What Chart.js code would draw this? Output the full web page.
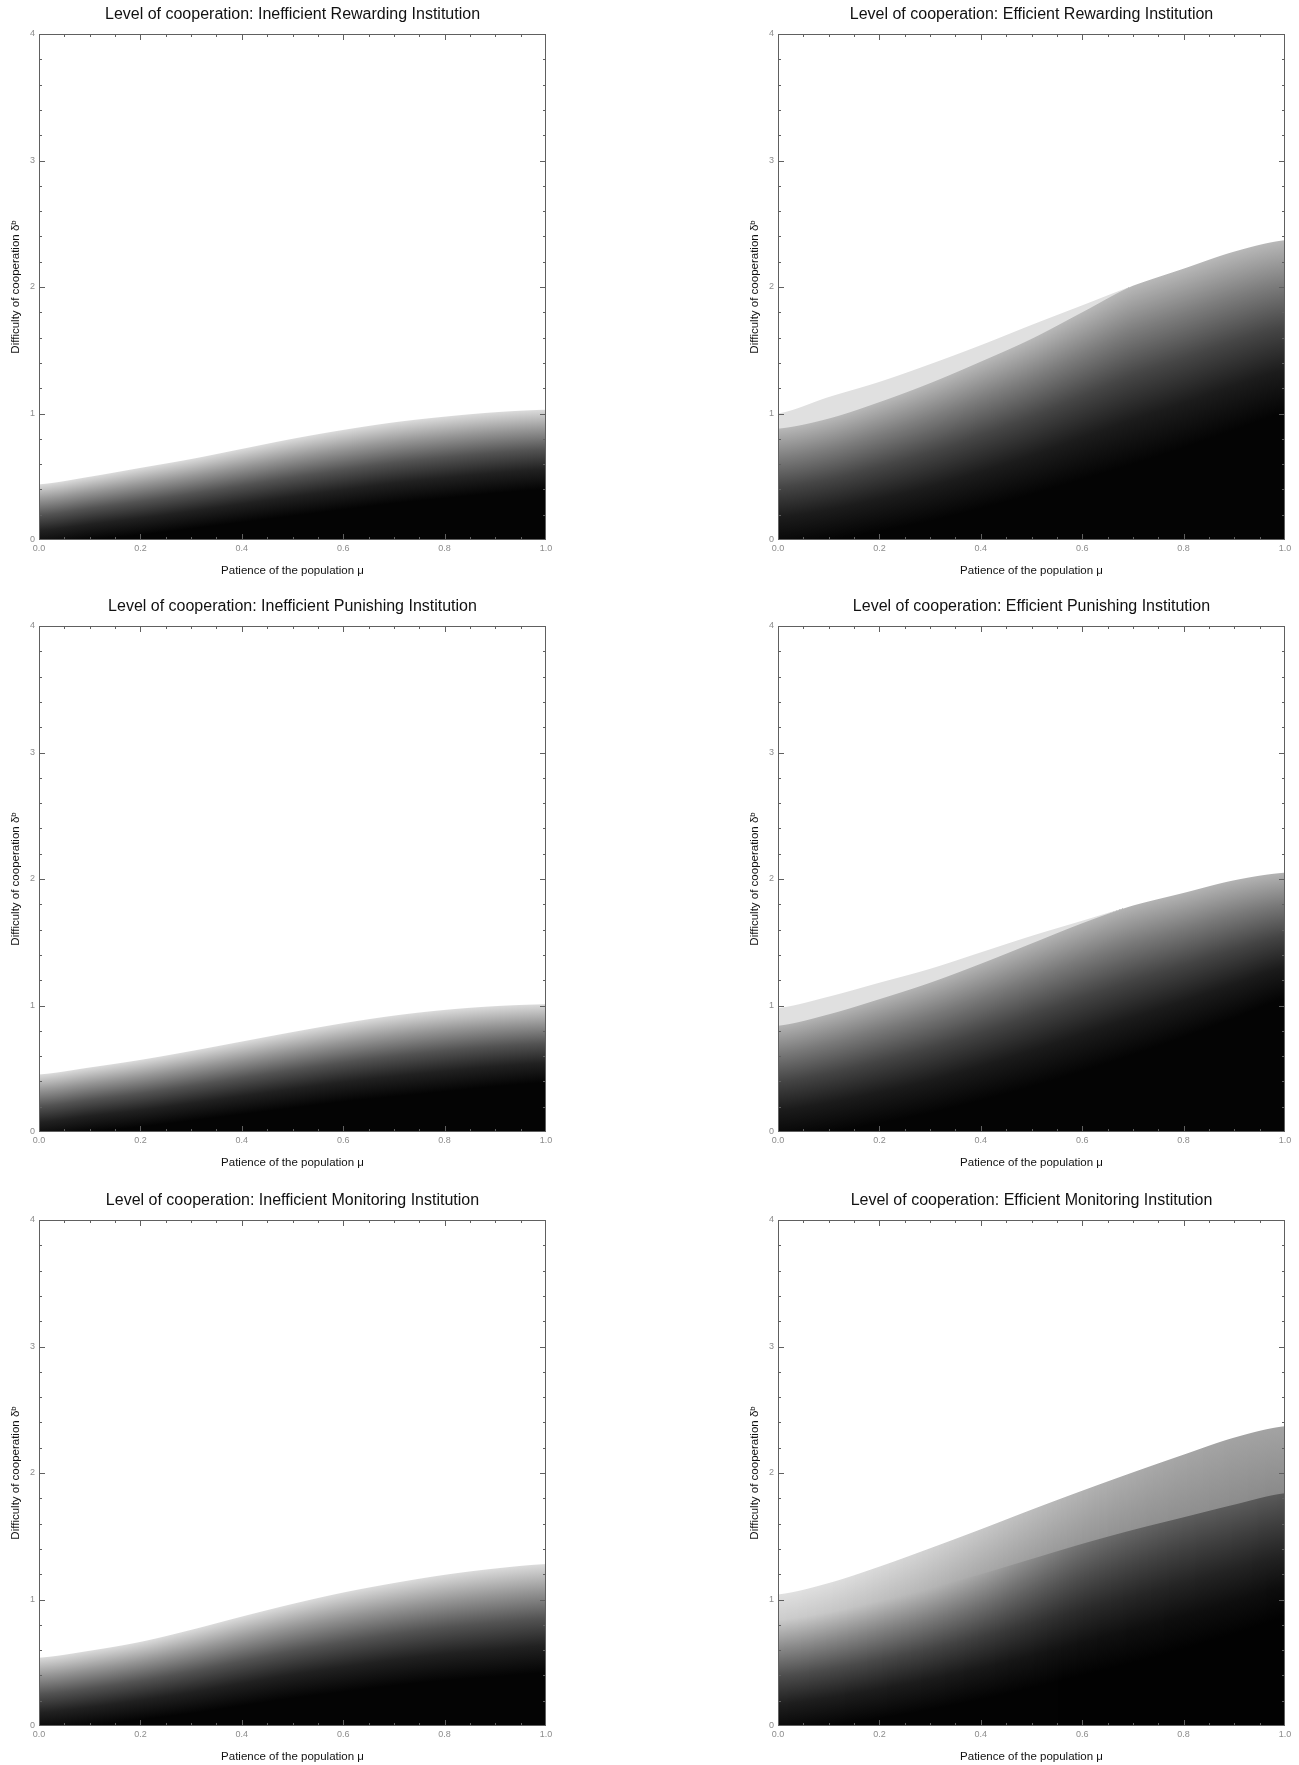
<!DOCTYPE html>
<html>
<head>
<meta charset="utf-8">
<script src="https://cdn.jsdelivr.net/npm/chart.js@4.4.0/dist/chart.umd.min.js"></script>
<style>
  html, body { margin: 0; padding: 0; background: #fff; overflow: hidden; }
  .panel { position: absolute; width: 585px; height: 585px; }
</style>
</head>
<body>
<div class="panel" style="left:0px;top:0px"><canvas id="chart0" width="585" height="585"></canvas></div>
<div class="panel" style="left:739px;top:0px"><canvas id="chart1" width="585" height="585"></canvas></div>
<div class="panel" style="left:0px;top:592px"><canvas id="chart2" width="585" height="585"></canvas></div>
<div class="panel" style="left:739px;top:592px"><canvas id="chart3" width="585" height="585"></canvas></div>
<div class="panel" style="left:0px;top:1186px"><canvas id="chart4" width="585" height="585"></canvas></div>
<div class="panel" style="left:739px;top:1186px"><canvas id="chart5" width="585" height="585"></canvas></div>
<script>
// patience of the population (x samples)
const mu = [0, 0.1, 0.2, 0.3, 0.4, 0.5, 0.6, 0.7, 0.8, 0.9, 1.0];

// difficulty where cooperation disappears (top edge of the grey area)
const rewardInefEdge  = [0.44, 0.50, 0.57, 0.64, 0.72, 0.80, 0.87, 0.93, 0.975, 1.01, 1.03];
const punishInefEdge  = [0.455, 0.51, 0.57, 0.64, 0.715, 0.79, 0.86, 0.92, 0.965, 0.995, 1.01];
const monitorInefEdge = [0.54, 0.595, 0.665, 0.76, 0.865, 0.965, 1.055, 1.13, 1.195, 1.245, 1.28];
const rewardEffEdge   = [1.0, 1.13, 1.25, 1.39, 1.54, 1.70, 1.855, 2.01, 2.145, 2.28, 2.37];
const punishEffEdge   = [0.98, 1.07, 1.18, 1.29, 1.42, 1.55, 1.67, 1.79, 1.89, 1.99, 2.05];
const monitorEffEdge  = [1.04, 1.13, 1.26, 1.405, 1.555, 1.71, 1.86, 2.005, 2.145, 2.28, 2.37];

// lower end of the light band in the efficient institutions
const rewardEffStep  = [0.88, 0.96, 1.09, 1.24, 1.41, 1.59, 1.80, 2.01, 2.145, 2.28, 2.37];
const punishEffStep  = [0.84, 0.93, 1.05, 1.18, 1.33, 1.49, 1.65, 1.79, 1.89, 1.99, 2.05];
const monitorEffStep = [0.84, 0.90, 0.99, 1.09, 1.20, 1.32, 1.44, 1.55, 1.65, 1.75, 1.84];

// difficulty below which cooperation is full (black)
const rewardInefFloor  = [-0.05, 0.0, 0.04, 0.09, 0.14, 0.19, 0.24, 0.29, 0.33, 0.37, 0.40];
const punishInefFloor  = [-0.05, 0.0, 0.04, 0.09, 0.14, 0.19, 0.24, 0.28, 0.32, 0.36, 0.39];
const monitorInefFloor = [-0.04, 0.0, 0.05, 0.10, 0.16, 0.22, 0.27, 0.32, 0.36, 0.39, 0.42];
const rewardEffFloor   = [-0.05, 0.0, 0.07, 0.15, 0.25, 0.36, 0.48, 0.60, 0.73, 0.87, 1.0];
const punishEffFloor   = [-0.05, 0.0, 0.07, 0.15, 0.25, 0.36, 0.48, 0.61, 0.75, 0.90, 1.05];
const monitorEffFloor  = [-0.05, 0.0, 0.06, 0.13, 0.21, 0.30, 0.40, 0.50, 0.61, 0.73, 0.85];

// grey levels (1 = white) read at the band edges for efficient monitoring
const monitorEffTop      = [0.88, 0.87, 0.85, 0.82, 0.78, 0.74, 0.70, 0.67, 0.65, 0.64, 0.64];
const monitorEffStepUp   = [0.80, 0.78, 0.75, 0.71, 0.66, 0.62, 0.59, 0.57, 0.56, 0.55, 0.54];
const monitorEffStepDown = [0.80, 0.78, 0.75, 0.71, 0.64, 0.54, 0.45, 0.40, 0.37, 0.36, 0.35];

// how the grey fades from the band edge (t=1) down to the floor (t=0)
const fadeProfile = [[0, 0.02], [0.25, 0.15], [0.5, 0.38], [0.75, 0.68], [1, 1]];

const xTicks = [0, 0.2, 0.4, 0.6, 0.8, 1.0];
const yTicks = [0, 1, 2, 3, 4];
const xMinorStep = 0.05;
const yMinorStep = 0.2;

const panels = [
  { title: 'Level of cooperation: Inefficient Rewarding Institution', edge: rewardInefEdge, step: rewardInefEdge, floor: rewardInefFloor, top: 0.86, stepUp: 0.86, stepDown: 0.86 },
  { title: 'Level of cooperation: Efficient Rewarding Institution', edge: rewardEffEdge, step: rewardEffStep, floor: rewardEffFloor, top: 0.88, stepUp: 0.88, stepDown: 0.72 },
  { title: 'Level of cooperation: Inefficient Punishing Institution', edge: punishInefEdge, step: punishInefEdge, floor: punishInefFloor, top: 0.86, stepUp: 0.86, stepDown: 0.86 },
  { title: 'Level of cooperation: Efficient Punishing Institution', edge: punishEffEdge, step: punishEffStep, floor: punishEffFloor, top: 0.88, stepUp: 0.88, stepDown: 0.70 },
  { title: 'Level of cooperation: Inefficient Monitoring Institution', edge: monitorInefEdge, step: monitorInefEdge, floor: monitorInefFloor, top: 0.86, stepUp: 0.86, stepDown: 0.86 },
  { title: 'Level of cooperation: Efficient Monitoring Institution', edge: monitorEffEdge, step: monitorEffStep, floor: monitorEffFloor, top: monitorEffTop, stepUp: monitorEffStepUp, stepDown: monitorEffStepDown },
];

const FONT = '"Liberation Sans", Arial, Helvetica, sans-serif';

// catmull-rom between the read samples
function sample(arr, m) {
  if (!Array.isArray(arr)) return arr;
  const n = arr.length - 1;
  let i = 0;
  while (i < n - 1 && m > mu[i + 1]) i++;
  const t = Math.min(Math.max((m - mu[i]) / (mu[i + 1] - mu[i]), 0), 1);
  const p0 = arr[Math.max(i - 1, 0)], p1 = arr[i], p2 = arr[i + 1], p3 = arr[Math.min(i + 2, n)];
  return p1 + 0.5 * t * (p2 - p0 + t * (2 * p0 - 5 * p1 + 4 * p2 - p3 + t * (3 * (p1 - p2) + p3 - p0)));
}

function grey(v) {
  const g = Math.round(255 * Math.min(Math.max(v, 0), 1));
  return `rgb(${g},${g},${g})`;
}

function makeFieldPlugin(panel) {
  return {
    id: 'coopField',
    beforeDatasetsDraw(chart) {
      const { ctx, chartArea: a, scales: { x, y } } = chart;
      ctx.save();
      ctx.beginPath();
      ctx.rect(a.left, a.top, a.right - a.left, a.bottom - a.top);
      ctx.clip();
      for (let px = Math.floor(a.left); px < a.right; px++) {
        const m = x.getValueForPixel(px + 0.5);
        const yEdge = y.getPixelForValue(sample(panel.edge, m));
        const yStep = Math.max(y.getPixelForValue(sample(panel.step, m)), yEdge);
        const yFloor = y.getPixelForValue(sample(panel.floor, m));
        const hasBand = yStep - yEdge > 0.3;

        // fade first, starting a pixel higher so the band covers the seam
        const down = sample(panel.stepDown, m);
        const fade = ctx.createLinearGradient(0, yStep, 0, Math.max(yFloor, yStep + 1));
        fadeProfile.forEach(([t, k]) => fade.addColorStop(1 - t, grey(down * k)));
        ctx.fillStyle = fade;
        const fadeTop = hasBand ? Math.floor(yStep) : yStep;
        ctx.fillRect(px, fadeTop, 1, a.bottom - fadeTop);

        if (hasBand) {
          const band = ctx.createLinearGradient(0, yEdge, 0, yStep);
          band.addColorStop(0, grey(sample(panel.top, m)));
          band.addColorStop(1, grey(sample(panel.stepUp, m)));
          ctx.fillStyle = band;
          ctx.fillRect(px, yEdge, 1, yStep - yEdge);
        }
      }
      ctx.restore();
    },
    afterDraw(chart) {
      const { ctx, chartArea: a, scales: { x, y } } = chart;
      ctx.save();
      ctx.strokeStyle = '#606060';
      ctx.lineWidth = 1;
      ctx.strokeRect(a.left + 0.5, a.top + 0.5, a.right - a.left - 1, a.bottom - a.top - 1);
      ctx.beginPath();
      const nx = Math.round((x.max - x.min) / xMinorStep);
      for (let i = 0; i <= nx; i++) {
        const v = x.min + i * xMinorStep;
        const len = i % 4 === 0 ? 6 : 3;
        const px = Math.min(Math.round(x.getPixelForValue(v)), a.right - 1) + 0.5;
        ctx.moveTo(px, a.bottom); ctx.lineTo(px, a.bottom - len);
        ctx.moveTo(px, a.top); ctx.lineTo(px, a.top + len);
      }
      const ny = Math.round((y.max - y.min) / yMinorStep);
      for (let i = 0; i <= ny; i++) {
        const v = y.min + i * yMinorStep;
        const len = i % 5 === 0 ? 6 : 3;
        const py = Math.min(Math.round(y.getPixelForValue(v)), a.bottom - 1) + 0.5;
        ctx.moveTo(a.left, py); ctx.lineTo(a.left + len, py);
        ctx.moveTo(a.right, py); ctx.lineTo(a.right - len, py);
      }
      ctx.stroke();
      ctx.restore();
    }
  };
}

panels.forEach((panel, idx) => {
  const ctx = document.getElementById('chart' + idx).getContext('2d');
  new Chart(ctx, {
    type: 'scatter',
    data: {
      datasets: [{
        label: 'edge',
        data: mu.map((m, i) => ({ x: m, y: panel.edge[i] })),
        showLine: false,
        pointRadius: 0,
        pointHoverRadius: 0,
        pointBorderWidth: 0,
      }],
    },
    options: {
      responsive: false,
      animation: false,
      events: [],
      layout: { padding: 0 },
      plugins: {
        legend: { display: false },
        tooltip: { enabled: false },
        title: {
          display: true,
          text: panel.title,
          color: '#111',
          font: { family: FONT, size: 16, weight: 'normal', lineHeight: 1.2 },
          padding: { top: 5, bottom: 9.8 },
        },
      },
      scales: {
        x: {
          type: 'linear',
          min: 0,
          max: 1,
          afterBuildTicks: (scale) => { scale.ticks = xTicks.map(v => ({ value: v })); },
          afterFit: (scale) => { scale.height = 45; },
          grid: { display: false, drawTicks: false },
          border: { display: false },
          ticks: {
            padding: 3,
            color: '#8c8c8c',
            font: { family: FONT, size: 9 },
            maxRotation: 0,
            callback: (v) => Number(v).toFixed(1),
          },
          title: {
            display: true,
            text: 'Patience of the population μ',
            color: '#111',
            font: { family: FONT, size: 11.5 },
            padding: { bottom: 7 },
          },
        },
        y: {
          type: 'linear',
          min: 0,
          max: 4,
          afterBuildTicks: (scale) => { scale.ticks = yTicks.map(v => ({ value: v })); },
          afterFit: (scale) => { scale.width = 39; },
          grid: { display: false, drawTicks: false },
          border: { display: false },
          ticks: {
            padding: 4,
            color: '#8c8c8c',
            font: { family: FONT, size: 9 },
          },
          title: {
            display: true,
            text: 'Difficulty of cooperation δᵇ',
            color: '#111',
            font: { family: FONT, size: 11.5 },
            padding: { top: 9 },
          },
        },
        yRight: {
          type: 'linear',
          position: 'right',
          min: 0,
          max: 4,
          afterFit: (scale) => { scale.width = 39; },
          grid: { display: false, drawTicks: false },
          border: { display: false },
          ticks: { display: false },
        },
      },
    },
    plugins: [makeFieldPlugin(panel)],
  });
});
</script>
</body>
</html>
